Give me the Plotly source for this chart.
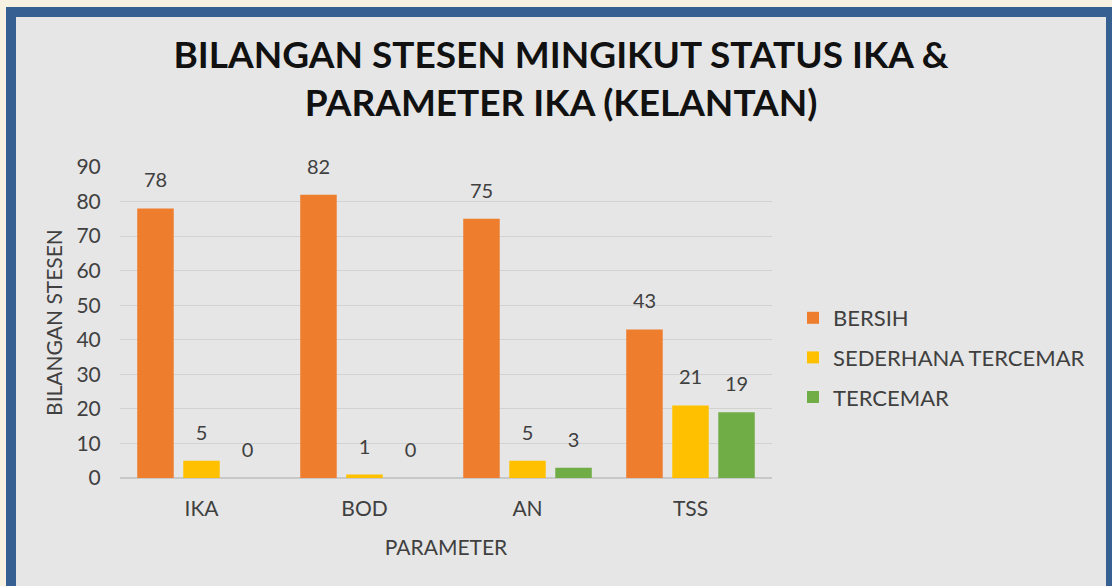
import plotly.graph_objects as go

categories = ["IKA", "BOD", "AN", "TSS"]
bersih = [78, 82, 75, 43]
sederhana = [5, 1, 5, 21]
tercemar = [0, 0, 3, 19]
series_names = ["BERSIH", "SEDERHANA TERCEMAR", "TERCEMAR"]
colors = ["#EE7D2E", "#FFC000", "#70AD47"]

W, H = 1112, 586
L, R, T, B = 120, 340, 167, 108
pw, ph = W - L - R, H - T - B

def px2x(px):
    return (px - L) / pw

def px2y(py):
    return (H - B - py) / ph

FONT = "Lato"
TXT = "#404040"
BARGAP = 0.153

fig = go.Figure()
series = [bersih, sederhana, tercemar]
for i, (name, vals) in enumerate(zip(series_names, series)):
    fig.add_trace(go.Bar(
        x=categories, y=vals, name=name,
        marker=dict(color=colors[i], line=dict(width=0)),
        legendgroup=name, alignmentgroup="bars", offsetgroup=f"b{i}",
    ))
# data labels, grouped the same way as the bars
for i, (name, vals) in enumerate(zip(series_names, series)):
    fig.add_trace(go.Scatter(
        x=categories, y=vals, mode="markers+text",
        text=[str(v) for v in vals], textposition="top center",
        textfont=dict(family=FONT, size=20, color=TXT),
        marker=dict(size=24, color="rgba(0,0,0,0)"),
        showlegend=False, hoverinfo="skip", cliponaxis=False,
        alignmentgroup="labels", offsetgroup=f"s{i}",
    ))

shapes = [
    dict(type="rect", xref="paper", yref="paper", layer="below",
         x0=px2x(6), x1=px2x(1130), y0=px2y(600), y1=px2y(7),
         fillcolor="#376092", line=dict(width=0)),
    dict(type="rect", xref="paper", yref="paper", layer="below",
         x0=px2x(16), x1=px2x(1106), y0=px2y(600), y1=px2y(17),
         fillcolor="#E6E6E6", line=dict(width=0)),
]

fig.update_layout(
    width=W, height=H,
    margin=dict(l=L, r=R, t=T, b=B),
    paper_bgcolor="#F7F1E1", plot_bgcolor="#E6E6E6",
    shapes=shapes,
    barmode="group", bargap=BARGAP, bargroupgap=0.207,
    scattermode="group", scattergap=BARGAP,
    title=dict(text="<b>BILANGAN STESEN MINGIKUT STATUS IKA &<br>PARAMETER IKA (KELANTAN)</b>",
               x=561 / W, xref="container", xanchor="center",
               y=1 - 68 / H, yref="container", yanchor="top",
               font=dict(family=FONT, size=37, color="#111111")),
    font=dict(family=FONT, color=TXT),
    legend=dict(x=px2x(793), xanchor="left", y=px2y(297), yanchor="top",
                font=dict(family=FONT, size=22, color=TXT),
                bgcolor="rgba(0,0,0,0)", tracegroupgap=8,
                itemwidth=30),
    xaxis=dict(tickfont=dict(family=FONT, size=21, color=TXT),
               ticks="outside", ticklen=12, tickcolor="rgba(0,0,0,0)",
               showline=True, linecolor="#C8C8C8", linewidth=1,
               title=dict(text="PARAMETER", standoff=21,
                          font=dict(family=FONT, size=21, color=TXT))),
    yaxis=dict(range=[0, 90], dtick=10,
               tickfont=dict(family=FONT, size=21, color=TXT),
               ticks="outside", ticklen=14, tickcolor="rgba(0,0,0,0)",
               showgrid=True, gridcolor="#D2D2D2", gridwidth=1,
               zeroline=True, zerolinecolor="#C8C8C8",
               title=dict(text="BILANGAN STESEN", standoff=8,
                          font=dict(family=FONT, size=21, color=TXT))),
)

fig.write_html(
    "out.html",
    config={"displayModeBar": False},
    post_script="document.body.style.margin='0';document.body.style.background='#F7F1E1';",
)
